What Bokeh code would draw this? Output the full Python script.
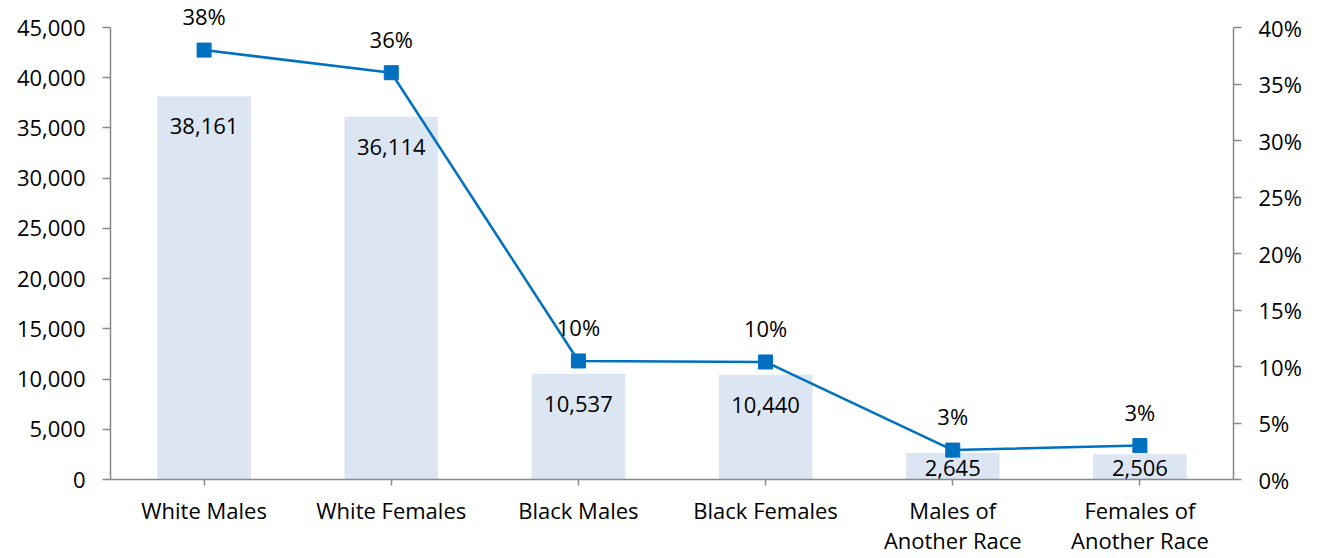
from bokeh.plotting import figure
from bokeh.models import (FactorRange, Range1d, LinearAxis, FixedTicker,
                          NumeralTickFormatter, ColumnDataSource)
from bokeh.core.properties import value
from bokeh.embed import file_html
from bokeh.resources import INLINE

# Population by race and sex
groups = ["White Males", "White Females", "Black Males", "Black Females",
          "Males of\nAnother Race", "Females of\nAnother Race"]
counts = [38161, 36114, 10537, 10440, 2645, 2506]
shares = [0.380, 0.360, 0.1049, 0.104, 0.026, 0.030]

count_ticks = [0, 5000, 10000, 15000, 20000, 25000, 30000, 35000, 40000, 45000]
share_ticks = [0, 0.05, 0.10, 0.15, 0.20, 0.25, 0.30, 0.35, 0.40]

FONT = "Open Sans"
FS = "22px"
CAT_FS = "22px"
BAR = "#DCE6F2"
LINE = "#0070C0"
AXIS = "#898989"

W, H = 1320, 558
LEFT, RIGHT, TOP, BOTTOM = 110, 87, 2, 79
AXIS_TOP = 27                      # where the top tick sits on the canvas
frame_h = H - TOP - BOTTOM
axis_h = H - AXIS_TOP - BOTTOM
count_max = count_ticks[-1]
share_max = share_ticks[-1]
# the frame reaches a little above the top tick so the top labels have room
count_top = count_max * frame_h / axis_h
share_top = share_max * frame_h / axis_h

p = figure(x_range=FactorRange(*groups, range_padding=0),
           y_range=Range1d(0, count_top),
           width=W, height=H, output_backend="svg", toolbar_location=None,
           min_border_left=LEFT, min_border_right=RIGHT,
           min_border_top=TOP, min_border_bottom=BOTTOM)
p.extra_y_ranges = {"pct": Range1d(0, share_top)}
p.outline_line_color = None
p.xgrid.visible = False
p.ygrid.visible = False
p.background_fill_color = "white"
p.border_fill_color = "white"

# left (count) axis
ya = p.yaxis[0]
ya.ticker = FixedTicker(ticks=count_ticks)
ya.formatter = NumeralTickFormatter(format="0,0")
ya.bounds = (0, count_max)

# right (share) axis
ra = LinearAxis(y_range_name="pct", ticker=FixedTicker(ticks=share_ticks),
                formatter=NumeralTickFormatter(format="0%"), bounds=(0, share_max))
p.add_layout(ra, "right")

for ax in (ya, ra):
    ax.major_tick_out = 8
    ax.major_tick_in = 0
    ax.minor_tick_out = 0
    ax.minor_tick_in = 0
    ax.major_label_standoff = 17
    ax.major_label_text_font_size = FS

xa = p.xaxis[0]
xa.major_tick_out = 6
xa.major_tick_in = 0
xa.major_label_standoff = 9
xa.major_label_text_line_height = 1.0
xa.major_label_text_font_size = CAT_FS

for ax in (ya, ra, xa):
    ax.axis_line_color = AXIS
    ax.axis_line_width = 1.5
    ax.major_tick_line_color = AXIS
    ax.major_tick_line_width = 1.5
    ax.major_label_text_font = FONT
    ax.major_label_text_color = "#000000"

src = ColumnDataSource(dict(
    g=groups, c=counts, s=shares,
    clabel=[f"{v:,}" for v in counts],
    slabel=[f"{round(v * 100):.0f}%" for v in shares],
))

# bars
p.vbar(x="g", top="c", width=0.5, source=src, fill_color=BAR, line_color=None)

# value labels inside the top of each bar, kept above the baseline
px_per_count = axis_h / count_max
src.data["cy"] = [v - min(30, v * px_per_count - 12) / px_per_count for v in counts]
p.text(x="g", y="cy", text="clabel", source=src,
       text_font=value(FONT), text_font_size=FS, text_color="#000000",
       text_align="center", text_baseline="middle")

# share line
p.line(x="g", y="s", source=src, y_range_name="pct",
       line_color=LINE, line_width=2.5)
p.scatter(x="g", y="s", source=src, y_range_name="pct", marker="square",
          size=14, fill_color=LINE, line_color=LINE)

# share labels above the markers
px_per_share = axis_h / share_max
src.data["sy"] = [v + 34 / px_per_share for v in shares]
p.text(x="g", y="sy", text="slabel", source=src, y_range_name="pct",
       text_font=value(FONT), text_font_size=FS, text_color="#000000",
       text_align="center", text_baseline="middle")

open("out.html", "w").write(file_html(p, INLINE))
